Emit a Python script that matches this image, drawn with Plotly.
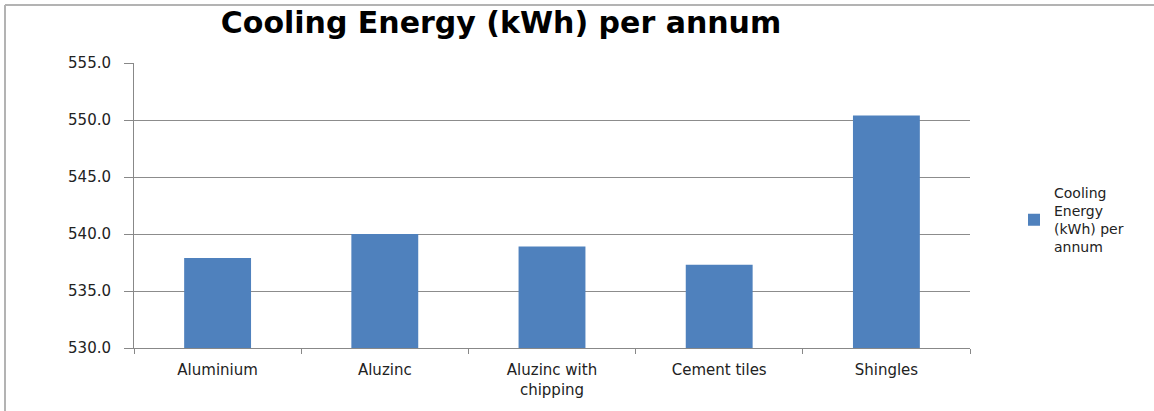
"""Cooling energy per annum by roofing material."""

import plotly.graph_objects as go

categories = ["Aluminium", "Aluzinc", "Aluzinc with<br>chipping", "Cement tiles", "Shingles"]
cooling_kwh = [537.9, 540.0, 538.9, 537.3, 550.4]
series_name = "Cooling<br>Energy<br>(kWh) per<br>annum"
y_ticks = [530, 535, 540, 545, 550, 555]

W, H = 1154, 411
L, R, T, B = 134, 184, 63, 63
pw, ph = W - L - R, H - T - B

fig = go.Figure()
fig.add_trace(
    go.Bar(
        x=categories,
        y=cooling_kwh,
        name=series_name,
        marker={"color": "#4F81BD", "line": {"width": 0}},
        showlegend=True,
    )
)

fig.update_layout(
    width=W,
    height=H,
    paper_bgcolor="white",
    plot_bgcolor="white",
    bargap=0.6,
    margin={"l": L, "r": R, "t": T, "b": B},
    font={"family": "DejaVu Sans", "color": "#222222", "size": 15},
    title={
        "text": "<b>Cooling Energy (kWh) per annum</b>",
        "x": 501 / W,
        "xanchor": "center",
        "y": 1 - 22 / H,
        "yanchor": "middle",
        "font": {"family": "DejaVu Sans", "size": 30, "color": "black"},
    },
    legend={
        "x": (1014 - L) / pw,
        "xanchor": "left",
        "y": 0.45,
        "yanchor": "middle",
        "font": {"size": 14},
        "itemwidth": 30,
    },
    xaxis={
        "showgrid": False,
        "showline": True,
        "linecolor": "#888888",
        "linewidth": 1,
        "ticks": "outside",
        "tickcolor": "#888888",
        "ticklen": 5,
        "tickson": "boundaries",
        "tickfont": {"size": 15},
        "ticklabelstandoff": 8,
    },
    yaxis={
        "range": [530, 555],
        "tickvals": y_ticks,
        "tickformat": ".1f",
        "showgrid": True,
        "gridcolor": "#8c8c8c",
        "gridwidth": 1,
        "showline": True,
        "linecolor": "#888888",
        "linewidth": 1,
        "ticks": "outside",
        "tickcolor": "#888888",
        "ticklen": 9,
        "tickfont": {"size": 15},
        "ticklabelstandoff": 10,
        "zeroline": False,
    },
    shapes=[
        # chart frame, only visible on top and left
        {
            "type": "line", "xref": "paper", "yref": "paper",
            "x0": (5 - L) / pw, "x1": (W - L) / pw,
            "y0": (H - T - 5) / ph, "y1": (H - T - 5) / ph,
            "line": {"color": "#b3b3b3", "width": 2},
        },
        {
            "type": "line", "xref": "paper", "yref": "paper",
            "x0": (5 - L) / pw, "x1": (5 - L) / pw,
            "y0": -B / ph, "y1": (H - B - 5) / ph,
            "line": {"color": "#b3b3b3", "width": 2},
        },
    ],
)

fig.write_html(
    "out.html",
    config={"displayModeBar": False},
    post_script="document.body.style.margin='0';",
)
